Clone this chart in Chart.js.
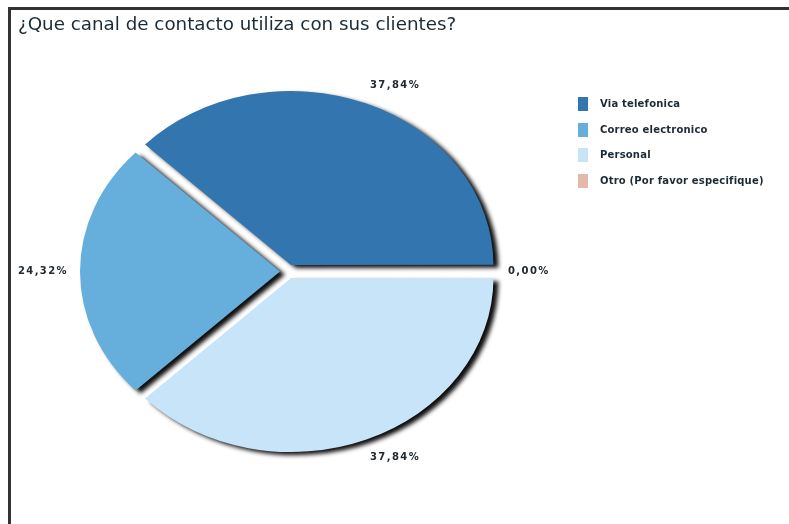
<!DOCTYPE html>
<html>
<head>
<meta charset="utf-8">
<script src="https://cdn.jsdelivr.net/npm/chart.js@4.4.1/dist/chart.umd.min.js"></script>
<style>
  html, body { margin: 0; padding: 0; background: #fff; }
  #wrap { position: relative; width: 789px; height: 524px; overflow: hidden; background: #fff; }
  #frame { position: absolute; left: 8px; top: 7px; right: 0; bottom: 0;
           border-top: 3px solid #333; border-left: 3px solid #333; }
  #title { position: absolute; left: 18px; top: 13px; white-space: nowrap;
           font: 18.3px "DejaVu Sans", sans-serif; color: #1a2c38; }
  #legend { position: absolute; left: 578px; top: 97px; letter-spacing: 0.2px;
            font: bold 10px "DejaVu Sans", sans-serif; color: #1c2a36; }
  .item { position: relative; height: 25.7px; }
  .sw { position: absolute; left: 0; top: 0; width: 10px; height: 14px; }
  .tx { position: absolute; left: 22px; top: 1px; white-space: nowrap; }
  canvas { position: absolute; left: 0; top: 0; }
</style>
</head>
<body>
<div id="wrap">
  <div id="frame"></div>
  <canvas id="pie" width="789" height="524"></canvas>
  <div id="title">¿Que canal de contacto utiliza con sus clientes?</div>
  <div id="legend"></div>
</div>
<script>
// Survey answers, in legend order
const categories = ['Via telefonica', 'Correo electronico', 'Personal', 'Otro (Por favor especifique)'];
const percentages = [37.84, 24.32, 37.84, 0.00];
const colors = ['#3375ae', '#66afdd', '#c7e4f9', '#e2b9aa'];

// Vertical squash of the pie (drawn as a flattened disc) and label placement
const SQUASH = 0.86;
const LABEL_DIST = 220;
const LABEL_SQUASH = 0.91;

const fmt = v => v.toFixed(2).replace('.', ',') + '%';

// Legend
const legend = document.getElementById('legend');
categories.forEach((name, i) => {
  const item = document.createElement('div');
  item.className = 'item';
  const sw = document.createElement('div');
  sw.className = 'sw';
  sw.style.background = colors[i];
  const tx = document.createElement('div');
  tx.className = 'tx';
  tx.textContent = name;
  item.appendChild(sw);
  item.appendChild(tx);
  legend.appendChild(item);
});

// The pie runs counter-clockwise from 3 o'clock; Chart.js goes clockwise,
// so the slices are fed in reverse order.
const order = categories.map((_, i) => i).reverse();

const flattenPie = {
  id: 'flattenPie',
  beforeDatasetsDraw(chart) {
    const ctx = chart.ctx;
    const arc = chart.getDatasetMeta(0).data[0];
    ctx.save();
    ctx.translate(arc.x, arc.y);
    ctx.scale(1, SQUASH);
    ctx.translate(-arc.x, -arc.y);
    ctx.shadowColor = 'rgba(0,0,0,0.95)';
    ctx.shadowBlur = 4;
    ctx.shadowOffsetX = 5;
    ctx.shadowOffsetY = 3;
  },
  afterDatasetsDraw(chart) {
    const ctx = chart.ctx;
    ctx.restore();
    const meta = chart.getDatasetMeta(0);
    const values = chart.data.datasets[0].data;
    ctx.save();
    ctx.font = 'bold 10px "DejaVu Sans", sans-serif';
    ctx.letterSpacing = '1.4px';
    ctx.fillStyle = '#222a30';
    ctx.textBaseline = 'middle';
    meta.data.forEach((arc, i) => {
      const mid = (arc.startAngle + arc.endAngle) / 2;
      const c = Math.cos(mid), s = Math.sin(mid);
      const x = arc.x + LABEL_DIST * c;
      const y = arc.y + LABEL_DIST * LABEL_SQUASH * s;
      ctx.textAlign = c > 0.2 ? 'left' : (c < -0.2 ? 'right' : 'center');
      ctx.fillText(fmt(values[i]), x, y);
    });
    ctx.restore();
  }
};

new Chart(document.getElementById('pie'), {
  type: 'pie',
  data: {
    labels: order.map(i => categories[i]),
    datasets: [{
      data: order.map(i => percentages[i]),
      backgroundColor: order.map(i => colors[i]),
      borderWidth: 0,
      offset: 32,
      radius: 200
    }]
  },
  options: {
    responsive: false,
    animation: false,
    rotation: 90,
    layout: { padding: { left: 0, right: 213, top: 19, bottom: 0 } },
    plugins: {
      legend: { display: false },
      tooltip: { enabled: false },
      title: { display: false }
    },
    events: []
  },
  plugins: [flattenPie]
});
</script>
</body>
</html>
